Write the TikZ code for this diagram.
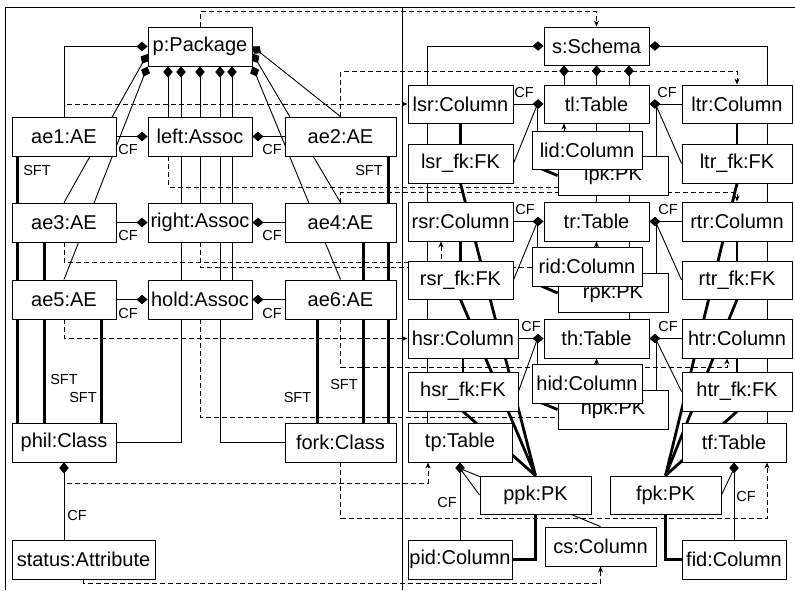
\documentclass[tikz,border=0pt]{standalone}
\usepackage{fontspec}
\setmainfont{Liberation Sans}
\usetikzlibrary{arrows.meta,calc}
\pgfdeclarelayer{edges}
\pgfsetlayers{edges,main}
\begin{document}
\begin{tikzpicture}[x=1pt,y=-1pt,
  box/.style={draw,fill=white,line width=0.9pt,minimum height=39pt,inner sep=0pt,font=\fontsize{20}{24}\selectfont},
  lbl/.style={inner sep=0pt,font=\fontsize{14.5}{17}\selectfont},
  ln/.style={line width=0.9pt},
  comp/.style={ln,-{Diamond[length=11pt,width=9.5pt]}},
  thk/.style={line width=2.8pt},
  mapline/.style={ln,dash pattern=on 5pt off 3pt,-{Stealth[length=6pt,width=5pt]}},
]
\useasboundingbox (0,0) rectangle (795,590);
% ---------- nodes, left panel
\node[box,minimum width=104pt] (p) at (200,46.5) {p:Package};
\node[box,minimum width=104pt] (ae1) at (64,136.5) {ae1:AE};
\node[box,minimum width=104pt] (left) at (200,136.5) {left:Assoc};
\node[box,minimum width=111pt] (ae2) at (340.5,136.5) {ae2:AE};
\node[box,minimum width=104pt] (ae3) at (64,222.5) {ae3:AE};
\node[box,minimum width=104pt] (right) at (200,222.5) {right:Assoc};
\node[box,minimum width=111pt] (ae4) at (340.5,222.5) {ae4:AE};
\node[box,minimum width=104pt] (ae5) at (64,299.5) {ae5:AE};
\node[box,minimum width=104pt] (hold) at (200,299.5) {hold:Assoc};
\node[box,minimum width=111pt] (ae6) at (340.5,299.5) {ae6:AE};
\node[box,minimum width=104pt] (phil) at (64,442.5) {phil:Class};
\node[box,minimum width=111pt] (fork) at (340.5,442.5) {fork:Class};
\node[box,minimum width=143pt] (status) at (83.5,559.5) {status:Attribute};
% ---------- nodes, right panel
\node[box,minimum width=105pt,minimum height=38pt] (s) at (596.5,46) {s:Schema};
\node[box,minimum width=105pt,minimum height=38pt] (lsr) at (460.5,104) {lsr:Column};
\node[box,minimum width=105pt,minimum height=38pt] (tl) at (596.5,104) {tl:Table};
\node[box,minimum width=110pt,minimum height=38pt] (ltr) at (737,104) {ltr:Column};
\node[box,minimum width=105pt] (lsrfk) at (460.5,163.5) {lsr\_fk:FK};
\node[box,minimum width=110pt] (lpk) at (613,175.5) {lpk:PK};
\node[box,minimum width=110pt,minimum height=38pt] (lid) at (587,150) {lid:Column};
\node[box,minimum width=110pt] (ltrfk) at (737,163.5) {ltr\_fk:FK};
\node[box,minimum width=105pt] (rsr) at (460.5,221.5) {rsr:Column};
\node[box,minimum width=105pt] (tr) at (596.5,221.5) {tr:Table};
\node[box,minimum width=110pt] (rtr) at (737,221.5) {rtr:Column};
\node[box,minimum width=105pt,minimum height=38pt] (rsrfk) at (460.5,280) {rsr\_fk:FK};
\node[box,minimum width=110pt] (rpk) at (613,293) {rpk:PK};
\node[box,minimum width=110pt] (rid) at (587,266.5) {rid:Column};
\node[box,minimum width=110pt,minimum height=38pt] (rtrfk) at (737,280) {rtr\_fk:FK};
\node[box,minimum width=110pt] (hsr) at (463,338.5) {hsr:Column};
\node[box,minimum width=105pt] (th) at (596.5,338.5) {th:Table};
\node[box,minimum width=110pt] (htr) at (737,338.5) {htr:Column};
\node[box,minimum width=110pt] (hsrfk) at (463,391.5) {hsr\_fk:FK};
\node[box,minimum width=110pt] (hpk) at (613,409.5) {hpk:PK};
\node[box,minimum width=110pt] (hid) at (587,383.5) {hid:Column};
\node[box,minimum width=110pt] (htrfk) at (737,391.5) {htr\_fk:FK};
\node[box,minimum width=104pt] (tp) at (460,442.5) {tp:Table};
\node[box,minimum width=104pt] (tf) at (734,442.5) {tf:Table};
\node[box,minimum width=111pt,minimum height=38pt] (ppk) at (535.5,495) {ppk:PK};
\node[box,minimum width=111pt,minimum height=38pt] (fpk) at (665.5,495) {fpk:PK};
\node[box,minimum width=104pt] (pid) at (460,559.5) {pid:Column};
\node[box,minimum width=111pt] (cs) at (600.5,546.5) {cs:Column};
\node[box,minimum width=104pt] (fid) at (734,559.5) {fid:Column};
% ---------- labels
\node[lbl] (c1) at (128,150) {CF};
\node[lbl] (c2) at (272,150) {CF};
\node[lbl] (c3) at (128,236) {CF};
\node[lbl] (c4) at (272,236) {CF};
\node[lbl] (c5) at (128,313) {CF};
\node[lbl] (c6) at (272,313) {CF};
\node[lbl] (c7) at (77,515) {CF};
\node[lbl] (s1) at (37,171) {SFT};
\node[lbl] (s2) at (64,379) {SFT};
\node[lbl] (s3) at (83,397) {SFT};
\node[lbl] (s4) at (369,171) {SFT};
\node[lbl] (s5) at (344,384) {SFT};
\node[lbl] (s6) at (297.5,397) {SFT};
\node[lbl] (c8) at (524,93) {CF};
\node[lbl] (c9) at (667,93) {CF};
\node[lbl] (c10) at (525,210) {CF};
\node[lbl] (c11) at (668,210) {CF};
\node[lbl] (c12) at (531,327) {CF};
\node[lbl] (c13) at (668,327) {CF};
\node[lbl] (c14) at (447,502.5) {CF};
\node[lbl] (c15) at (746,496) {CF};
% ---------- edges
\begin{pgfonlayer}{edges}
\draw[ln] (5.5,590) -- (5.5,7) -- (795,7);
\draw[ln] (402,7) -- (402,590);
% package containment
\draw[comp] (ae1.north) |- (p.west);
\draw[comp] (ae3.north) -- ([yshift=-7.5pt]p.west);
\draw[comp] (ae5.north) -- (p.south west);
\draw[comp] (ae2.north) -- (p.east);
\draw[comp] (ae4.north) -- ([yshift=-7pt]p.east);
\draw[comp] (ae6.north) -- (p.south east);
\draw[comp] ([xshift=-32pt]left.north) -- ([xshift=-32pt]p.south);
\draw[comp] (phil.east) -| ([xshift=-19pt]p.south);
\draw[comp] (right.north) -- (p.south);
\draw[comp] (fork.west) -| ([xshift=20pt]p.south);
\draw[comp] ([xshift=32pt]hold.north) -- ([xshift=32pt]p.south);
% CF assoc ends
\draw[comp] (ae1.east) -- (left.west);
\draw[comp] (ae2.west) -- (left.east);
\draw[comp] (ae3.east) -- (right.west);
\draw[comp] (ae4.west) -- (right.east);
\draw[comp] (ae5.east) -- (hold.west);
\draw[comp] (ae6.west) -- (hold.east);
\draw[comp] (status.north -| phil.south) -- (phil.south);
% SFT
\draw[thk] ([xshift=6pt]ae1.south west) -- ([xshift=6pt]phil.north west);
\draw[thk] ([xshift=33pt]ae3.south west) -- ([xshift=33pt]phil.north west);
\draw[thk] ([xshift=90pt]ae5.south west) -- ([xshift=90pt]phil.north west);
\draw[thk] ([xshift=-8pt]ae2.south east) -- ([xshift=-8pt]fork.north east);
\draw[thk] ([xshift=-33pt]ae4.south east) -- ([xshift=-33pt]fork.north east);
\draw[thk] ([xshift=-79pt]ae6.south east) -- ([xshift=-79pt]fork.north east);
% schema containment
\draw[comp] ([xshift=20pt]tp.north west) |- (s.west);
\draw[comp] ([xshift=-19pt]tf.north east) |- (s.east);
\draw[comp] ([xshift=-32.5pt]tl.north) -- ([xshift=-32.5pt]s.south);
\draw[comp] (tr.north) -- (s.south);
\draw[comp] ([xshift=32.5pt]th.north) -- ([xshift=32.5pt]s.south);
% table tl
\draw[comp] (lsr.east) -- (tl.west);
\draw[ln] (lsrfk.east) -- ([xshift=-6pt]tl.west);
\draw[ln] ([xshift=6pt]lid.north west) |- ([xshift=-6pt]tl.west);
\draw[comp] (ltr.west) -- (tl.east);
\draw[ln] (ltrfk.west) -- ([xshift=6pt]tl.east);
\draw[ln] ([xshift=-12pt]lpk.north east) |- ([xshift=6pt]tl.east);
% table tr
\draw[comp] (rsr.east) -- (tr.west);
\draw[ln] (rsrfk.east) -- ([xshift=-6pt]tr.west);
\draw[ln] ([xshift=6pt]rid.north west) |- ([xshift=-6pt]tr.west);
\draw[comp] (rtr.west) -- (tr.east);
\draw[ln] (rtrfk.west) -- ([xshift=6pt]tr.east);
\draw[ln] ([xshift=-12pt]rpk.north east) |- ([xshift=6pt]tr.east);
% table th
\draw[comp] (hsr.east) -- (th.west);
\draw[ln] (hsrfk.east) -- ([xshift=-6pt]th.west);
\draw[ln] ([xshift=6pt]hid.north west) |- ([xshift=-6pt]th.west);
\draw[comp] (htr.west) -- (th.east);
\draw[ln] (htrfk.west) -- ([xshift=6pt]th.east);
\draw[ln] ([xshift=-12pt]hpk.north east) |- ([xshift=6pt]th.east);
% tp, tf
\draw[comp] (pid.north) -- (tp.south);
\draw[ln] (ppk.west) -- ([yshift=-6pt]tp.south);
\draw[ln] (cs.north) -- ([yshift=-6pt]tp.south);
\draw[comp] (fid.north) -- (tf.south);
\draw[ln] (fpk.east) -- ([yshift=-6pt]tf.south);
% keys (thick)
\draw[thk] (lsr.south) -- (lsrfk.north);
\draw[thk] (rsr.south) -- (rsrfk.north);
\draw[thk] (hsr.south) -- (hsrfk.north);
\draw[thk] (ltr.south) -- (ltrfk.north);
\draw[thk] (rtr.south) -- (rtrfk.north);
\draw[thk] (htr.south) -- (htrfk.north);
\draw[thk] (lsrfk.south) -- (ppk.north);
\draw[thk] (rsrfk.south) -- (ppk.north);
\draw[thk] (hsrfk.south) -- (ppk.north);
\draw[thk] (ltrfk.south) -- (fpk.north);
\draw[thk] (rtrfk.south) -- (fpk.north);
\draw[thk] (htrfk.south) -- (fpk.north);
\draw[thk] ([xshift=4pt,yshift=3pt]lid.south west) -- (lpk.west);
\draw[thk] ([xshift=4pt,yshift=3pt]rid.south west) -- (rpk.west);
\draw[thk] ([xshift=4pt,yshift=3pt]hid.south west) -- (hpk.west);
\draw[thk] (pid.east) -| (ppk.south);
\draw[thk] (fid.west) -| (fpk.south);
% mappings (dashed)
\draw[mapline] (p.north) -- ++(0,-15) -| (s.north);
\draw[mapline] (ae1.north) |- (lsr.west);
\draw[mapline] (ae2.north) -- ++(0,-45) -| (ltr.north);
\draw[mapline] ([xshift=-32pt]left.south) -- ++(0,30.5) -| ([xshift=-32.5pt]tl.south);
\draw[mapline] (ae4.north) -- ++(0,-10) -| (rtr.north);
\draw[mapline] (ae3.south) -- ++(0,20) -| ([xshift=-19.5pt]rsr.south);
\draw[mapline] (right.south) -- ++(0,25) -| (tr.south);
\draw[mapline] (ae5.south) |- (hsr.west);
\draw[mapline] (hold.south) -- ++(0,98) -| (th.south);
\draw[mapline] (ae6.south) -- ++(0,48) -| ([xshift=-10pt]htr.south);
\draw[mapline] (phil.south) -- ++(0,21) -| ([xshift=-32pt]tp.south);
\draw[mapline] (fork.south) -- ++(0,56) -| ([xshift=33pt]tf.south);
\draw[mapline] (status.south) -- ++(0,4) -| (cs.south);
\end{pgfonlayer}
\end{tikzpicture}
\end{document}
